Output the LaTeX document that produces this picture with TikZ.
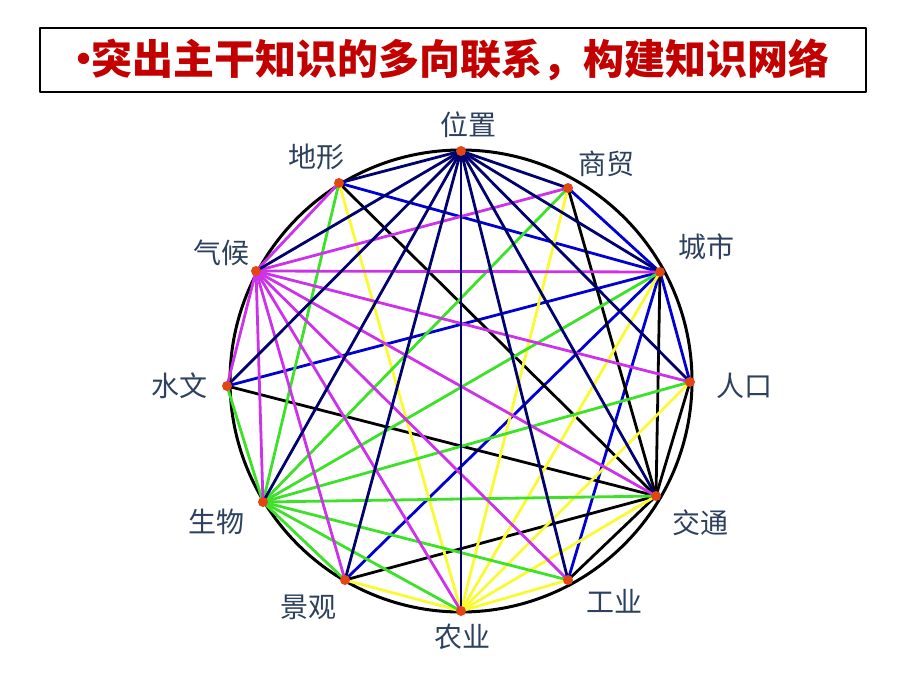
\documentclass[tikz,border=0pt]{standalone}
\usepackage{fontspec}
\setmainfont{Noto Sans CJK SC}
\definecolor{navy}{RGB}{0,0,110}
\definecolor{linkblue}{RGB}{0,0,210}
\definecolor{linkyellow}{RGB}{250,250,50}
\definecolor{linkgreen}{RGB}{60,225,40}
\definecolor{linkmag}{RGB}{205,50,235}
\definecolor{dotred}{RGB}{225,70,20}
\definecolor{lblblue}{RGB}{45,65,95}
\definecolor{titlered}{RGB}{195,0,0}
\tikzset{
  link/.style={line width=1.4pt},
  lbl/.style={text=lblblue, font=\fontsize{14}{16}\selectfont, inner sep=0pt},
  dot/.style={circle, fill=dotred, inner sep=0pt, minimum size=5pt},
}
\begin{document}
\begin{tikzpicture}[x=0.5pt,y=-0.5pt, line join=round, line cap=round]
	\useasboundingbox (0,0) rectangle (920,690);
	% Tiêu đề
	\node[draw, line width=1pt, minimum width=413pt, minimum height=32pt, inner sep=0pt,
	      text=titlered, font=\fontsize{20.5}{24}\selectfont\bfseries] (title) at (453,60)
	      {\makebox[7pt]{•}突出主干知识的多向联系，构建知识网络};
	% Các điểm trên đường tròn
	\coordinate (wz) at (461,151);
	\coordinate (sm) at (568,188);
	\coordinate (cs) at (660,272);
	\coordinate (rk) at (690,382);
	\coordinate (jt) at (656,496);
	\coordinate (gy) at (568,580);
	\coordinate (ny) at (461,611);
	\coordinate (jg) at (345,580);
	\coordinate (sw) at (263,502);
	\coordinate (shw) at (227,386);
	\coordinate (qh) at (256,271);
	\coordinate (dx) at (339,183);
	\draw [line width=1.5pt] (461,381) circle [radius=115.5pt];
	% Các đường nối
	\foreach \t in {sm,rk,gy,jg,shw,dx} \draw [link, linkblue] (cs) -- (\t);
	\foreach \t in {cs,sm,rk,gy,jg,shw,dx} \draw [link, black] (jt) -- (\t);
	\foreach \t in {cs,jt,sm,rk,gy,jg,dx} \draw [link, linkyellow] (ny) -- (\t);
	\foreach \t in {cs,jt,ny,sm,rk,gy,jg,shw,dx} \draw [link, linkgreen] (sw) -- (\t);
	\foreach \t in {cs,jt,ny,sw,sm,rk,gy,jg,shw,dx} \draw [link, linkmag] (qh) -- (\t);
	\foreach \t in {sm,cs,rk,jt,gy,ny,jg,sw,shw,qh,dx} \draw [link, navy] (wz) -- (\t);
	\foreach \p in {wz,sm,cs,rk,jt,gy,ny,jg,sw,shw,qh,dx} \node[dot] (d-\p) at (\p) {};
	% Nhãn
	\node[lbl] (l-wz) at (468,125) {位置};
	\node[lbl] (l-sm) at (606,164) {商贸};
	\node[lbl] (l-cs) at (706,247) {城市};
	\node[lbl] (l-rk) at (744,386) {人口};
	\node[lbl] (l-jt) at (700,523) {交通};
	\node[lbl] (l-gy) at (614,601) {工业};
	\node[lbl] (l-ny) at (462,637) {农业};
	\node[lbl] (l-jg) at (308,607) {景观};
	\node[lbl] (l-sw) at (216,522) {生物};
	\node[lbl] (l-shw) at (179,386) {水文};
	\node[lbl] (l-qh) at (221,253) {气候};
	\node[lbl] (l-dx) at (316,157) {地形};
\end{tikzpicture}
\end{document}
